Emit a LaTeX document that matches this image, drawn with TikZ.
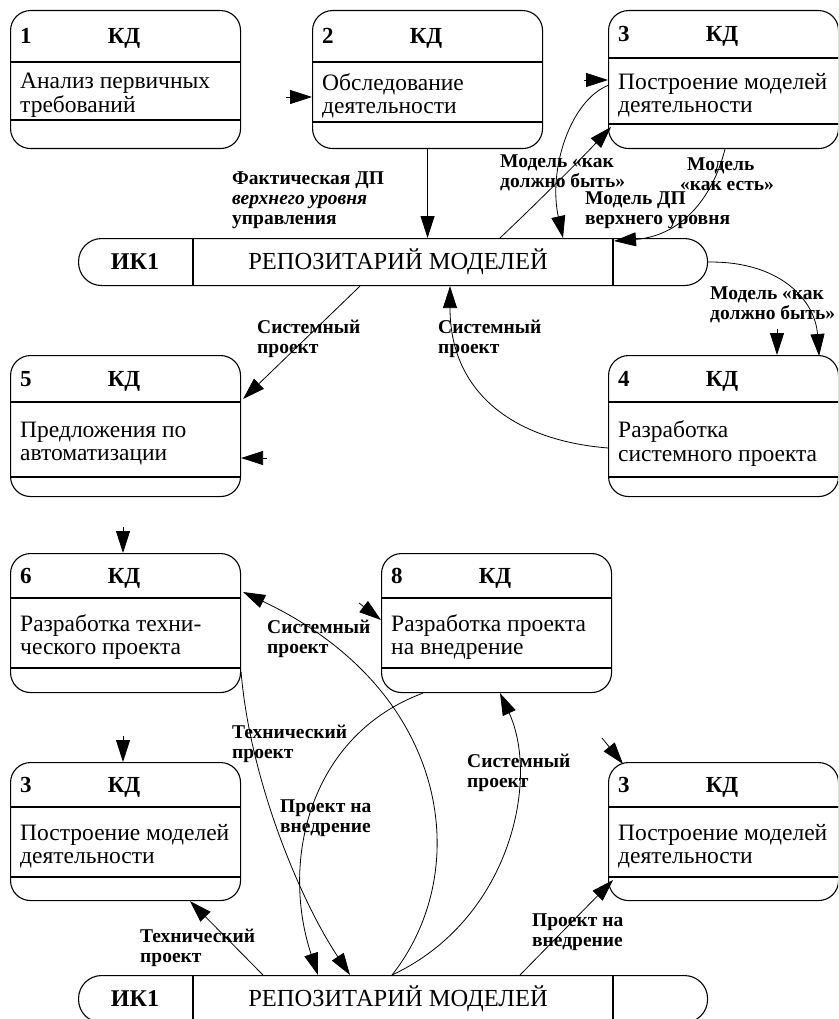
\documentclass[tikz,border=0pt]{standalone}
\usepackage{fontspec}
\setmainfont{Liberation Serif}
\usetikzlibrary{arrows.meta,calc}
\begin{document}
\begin{tikzpicture}[x=1pt,y=1pt,
  kd/.style={draw, line width=1.1pt, rounded corners=20pt, minimum width=230pt, inner sep=0pt, anchor=north west},
  sep/.style={line width=1.8pt},
  repo/.style={draw, line width=1.1pt, rounded corners=23pt, minimum width=629pt, minimum height=47pt, inner sep=0pt, anchor=north west},
  arr/.style={line width=0.8pt, -{Triangle[length=22pt,width=14pt]}},
  lbl/.style={font=\fontsize{19.5}{20}\selectfont\bfseries, align=left, anchor=north west, inner sep=0pt},
  body/.style={font=\fontsize{23.5}{23.5}\selectfont, align=left, anchor=west, inner sep=0pt},
  hd/.style={font=\fontsize{23}{23}\selectfont\bfseries, inner sep=0pt},
]
\clip (0,0) rectangle (838,-1019);
\fill[white] (0,0) rectangle (838,-1019);

\newcommand\kdbox[8]{%
  \node[kd, minimum height=#6pt] (#1) at (#2,-#3) {};
  \draw[sep] ($(#1.north west)+(0,-#4)$) -- ($(#1.north east)+(0,-#4)$);
  \draw[sep] ($(#1.north west)+(0,-#5)$) -- ($(#1.north east)+(0,-#5)$);
  \node[hd, anchor=base west] (#1num) at ($(#1.north west)+(10,-#4/2-8)$) {#7};
  \node[hd, anchor=base] (#1kd) at ($(#1.north west)+(114,-#4/2-8)$) {КД};
  \node[body] (#1txt) at ($(#1.north west)+(10,-#4/2-#5/2-4)$) {#8};
}
\newcommand\repobox[3]{%
  \node[repo] (#1) at (#2,-#3) {};
  \draw[line width=1.5pt] ($(#1.north west)+(115,0)$) -- ($(#1.south west)+(115,0)$);
  \draw[line width=1.5pt] ($(#1.north west)+(535,0)$) -- ($(#1.south west)+(535,0)$);
  \node[font=\fontsize{24}{24}\selectfont\bfseries, inner sep=0pt] (#1id) at ($(#1.west)+(57,0)$) {ИК1};
  \node[font=\fontsize{24.5}{25}\selectfont, inner sep=0pt] (#1t) at ($(#1.west)+(320,0)$) {РЕПОЗИТАРИЙ МОДЕЛЕЙ};
}

% boxes
\kdbox{b1}{10}{10}{52}{110}{138}{1}{Анализ первичных\\требований}
\kdbox{b2}{312}{10}{52}{112}{138}{2}{Обследование\\деятельности}
\kdbox{b3}{608}{10}{48}{114}{138}{3}{Построение моделей\\деятельности}
\kdbox{b5}{10}{355}{47}{122}{141}{5}{Предложения по\\автоматизации}
\kdbox{b4}{608}{355}{47}{122}{141}{4}{Разработка\\системного проекта}
\kdbox{b6}{10}{553}{45}{115}{139}{6}{Разработка техни-\\ческого проекта}
\kdbox{b8}{381}{553}{45}{115}{139}{8}{Разработка проекта\\на внедрение}
\kdbox{b3l}{10}{762}{45}{115}{138}{3}{Построение моделей\\деятельности}
\kdbox{b3r}{608}{762}{45}{115}{138}{3}{Построение моделей\\деятельности}

\repobox{r1}{78}{238}
\repobox{r2}{78}{975}

% ---------- top part connectors
\coordinate (s1) at (286,-97);
\draw[arr] (s1) -- (s1 -| b2.west);
\draw[arr] (b2.south) -- (b2.south |- r1.north);
\coordinate (s2) at (584,-80);
\draw[arr] (s2) -- (s2 -| b3.west);
\draw[arr] ($(r1.north west)+(422,0)$) .. controls (540,-200) and (580,-160) .. ($(b3.north west)+(3,-117)$);
\draw[arr] ($(b3.north west)+(1,-75)$) .. controls (570,-100) and (548,-170) .. ($(r1.north west)+(485,0)$);
\draw[arr] ($(b3.south west)+(117,0)$) .. controls (712,-200) and (680,-236) .. ($(r1.north west)+(536,-3)$);
\draw[arr] (r1.east) .. controls (780,-261) and (815,-300) .. ($(b4.north east)+(-20,-1)$);
\coordinate (s3) at (777,-329);
\draw[arr] (s3) -- (s3 |- b4.north);
\draw[arr] ($(r1.south west)+(282,0)$) -- ($(b5.north east)+(2,-44)$);
\coordinate (s4) at (267,-458);
\draw[arr] (s4) -- (s4 -| b5.east);
\draw[arr] ($(b4.north west)+(0,-93)$) .. controls (510,-440) and (450,-390) .. ($(r1.south west)+(372,0)$);

% ---------- bottom part connectors
\coordinate (s5) at (123,-527);
\draw[arr] (s5) -- (s5 |- b6.north);
\draw[arr] ($(r2.north west)+(314,0)$) .. controls (475,-870) and (450,-690) .. ($(b6.north east)+(2,-39)$);
\draw[arr] ($(b6.north east)+(0,-119)$) .. controls (250,-780) and (300,-900) .. ($(r2.north west)+(272,0)$);
\draw[arr] ($(b8.south west)+(42,0)$) .. controls (310,-735) and (280,-860) .. ($(r2.north west)+(240,0)$);
\draw[arr] ($(r2.north west)+(314,0)$) .. controls (510,-920) and (540,-780) .. ($(b8.south west)+(119,0)$);
\coordinate (s6) at (359,-603);
\draw[arr] (s6) -- ($(b8.north west)+(0,-67)$);
\coordinate (s7) at (123,-736);
\draw[arr] (s7) -- (s7 |- b3l.north);
\draw[arr] ($(r2.north west)+(185,0)$) -- ($(b3l.south west)+(180,0)$);
\coordinate (s8) at (602,-738);
\draw[arr] (s8) -- ($(b3r.north west)+(15,-2)$);
\draw[arr] ($(r2.north west)+(442,0)$) -- ($(b3r.north west)+(5,-118)$);

% ---------- labels
\node[lbl] (l1) at (232,-172) {Фактическая ДП\\\textit{верхнего уровня}\\управления};
\node[lbl] (l2) at (500,-155) {Модель «как\\должно быть»};
\node[lbl] (l3) at (680,-158) {\hspace{7pt}Модель\\«как есть»};
\node[lbl] (l4) at (585,-192) {Модель ДП\\верхнего уровня};
\node[lbl] (l5) at (710,-287) {Модель «как\\должно быть»};
\node[lbl] (l6) at (257,-320) {Системный\\проект};
\node[lbl] (l7) at (438,-320) {Системный\\проект};
\node[lbl] (l8) at (267,-620) {Системный\\проект};
\node[lbl] (l9) at (232,-725) {Технический\\проект};
\node[lbl] (l10) at (280,-800) {Проект на\\внедрение};
\node[lbl] (l11) at (467,-754) {Системный\\проект};
\node[lbl] (l12) at (140,-929) {Технический\\проект};
\node[lbl] (l13) at (532,-914) {Проект на\\внедрение};
\end{tikzpicture}
\end{document}
